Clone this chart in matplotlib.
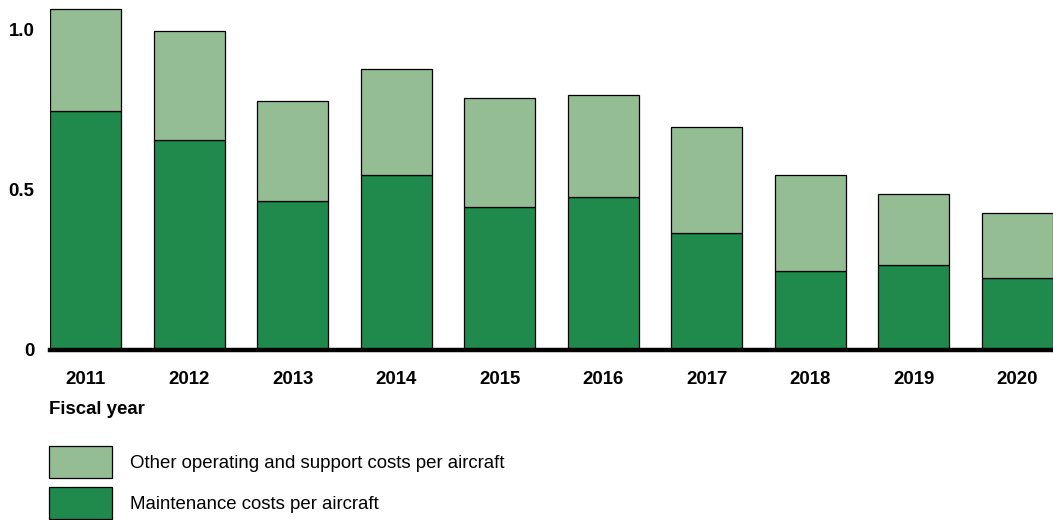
import matplotlib.pyplot as plt
import numpy as np

plt.rcParams['font.family'] = ['Liberation Sans', 'DejaVu Sans']

years = ["2011", "2012", "2013", "2014", "2015", "2016", "2017", "2018", "2019", "2020"]
maintenance = [0.747, 0.656, 0.466, 0.547, 0.447, 0.478, 0.366, 0.247, 0.266, 0.225]
total = [1.066, 0.997, 0.778, 0.878, 0.788, 0.797, 0.697, 0.547, 0.488, 0.428]
other = [t - m for t, m in zip(total, maintenance)]

dark_green = '#1F8A4C'
light_green = '#94BD94'
fs = 13.4

W, H = 1053, 520
fig = plt.figure(figsize=(W / 100, H / 100), dpi=100)
ax = fig.add_axes([50 / W, (H - 350) / H, 1003 / W, 350 / H])

x = np.arange(len(years))
width = 0.69
b1 = ax.bar(x, maintenance, width, color=dark_green, edgecolor='black', linewidth=0.9)
b2 = ax.bar(x, other, width, bottom=maintenance, color=light_green, edgecolor='black', linewidth=0.9)

ax.set_xlim(-width / 2, len(years) - 1 + width / 2)
ax.set_ylim(0, 350 / 320)

for s in ['top', 'right', 'left']:
    ax.spines[s].set_visible(False)
ax.spines['bottom'].set_linewidth(3.2)
ax.spines['bottom'].set_color('black')

ax.set_yticks([0, 0.5, 1.0])
ax.set_yticklabels(['0', '0.5', '1.0'], fontsize=fs, fontweight='bold')
ax.set_xticks(x)
ax.set_xticklabels(years, fontsize=fs, fontweight='bold')
ax.tick_params(axis='y', length=0, pad=11)
ax.tick_params(axis='x', length=0, pad=15)

fig.text(49 / W, 1 - 410 / H, 'Fiscal year', fontsize=fs, fontweight='bold', va='center', ha='left')

fig.legend([b2, b1], ['Other operating and support costs per aircraft', 'Maintenance costs per aircraft'],
           loc='upper left', bbox_to_anchor=(49 / W, 1 - 446 / H), frameon=False, fontsize=fs,
           handlelength=3.4, handleheight=2.3, handletextpad=0.95, labelspacing=0.45,
           borderpad=0, borderaxespad=0)

fig.savefig('out.png', dpi=100)
